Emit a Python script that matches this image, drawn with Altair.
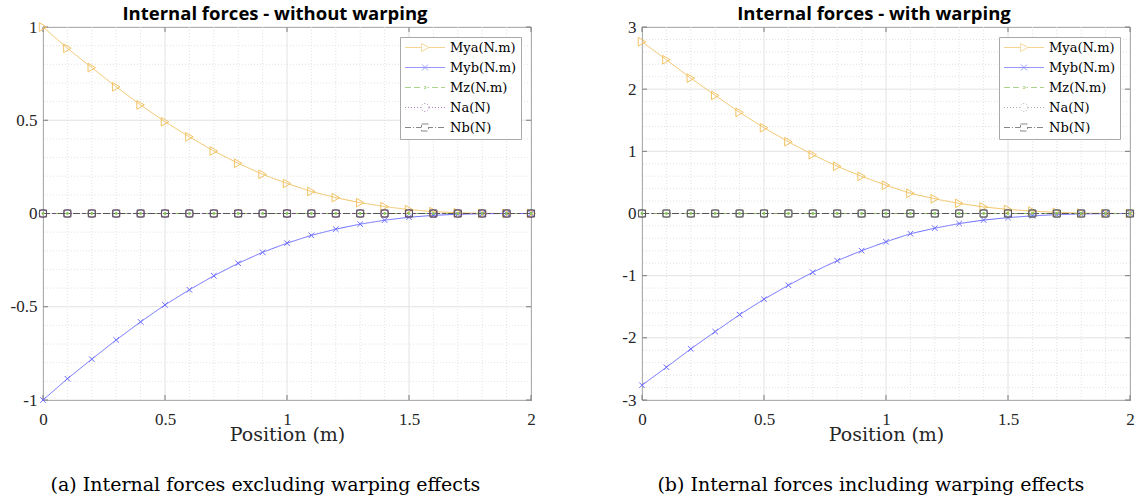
import math
import altair as alt
import pandas as pd

# ---------------- data ----------------
positions = [0.0, 0.1, 0.2, 0.3, 0.4, 0.5, 0.6, 0.7, 0.8, 0.9, 1.0,
             1.1, 1.2, 1.3, 1.4, 1.5, 1.6, 1.7, 1.8, 1.9, 2.0]

series_names = ["Mya(N.m)", "Myb(N.m)", "Mz(N.m)", "Na(N)", "Nb(N)"]

# (a) without warping
mya_a = [1.0, 0.886, 0.782, 0.679, 0.582, 0.492, 0.411, 0.335, 0.269, 0.210, 0.161,
         0.118, 0.085, 0.058, 0.037, 0.021, 0.010, 0.004, 0.001, 0.0, 0.0]
myb_a = [-1.0, -0.886, -0.781, -0.678, -0.581, -0.490, -0.409, -0.334, -0.267, -0.208, -0.159,
         -0.117, -0.084, -0.057, -0.036, -0.020, -0.010, -0.004, -0.001, 0.0, 0.0]
mz_a = [0.0, 0.0, 0.0, 0.0, 0.0, 0.0, 0.0, 0.0, 0.0, 0.0, 0.0,
        0.0, 0.0, 0.0, 0.0, 0.0, 0.0, 0.0, 0.0, 0.0, 0.0]
na_a = [0.0, 0.0, 0.0, 0.0, 0.0, 0.0, 0.0, 0.0, 0.0, 0.0, 0.0,
        0.0, 0.0, 0.0, 0.0, 0.0, 0.0, 0.0, 0.0, 0.0, 0.0]
nb_a = [0.0, 0.0, 0.0, 0.0, 0.0, 0.0, 0.0, 0.0, 0.0, 0.0, 0.0,
        0.0, 0.0, 0.0, 0.0, 0.0, 0.0, 0.0, 0.0, 0.0, 0.0]

# (b) with warping
mya_b = [2.762, 2.473, 2.178, 1.900, 1.627, 1.379, 1.154, 0.945, 0.759, 0.598, 0.455,
         0.325, 0.236, 0.162, 0.106, 0.066, 0.038, 0.018, 0.007, 0.002, 0.0]
myb_b = [-2.762, -2.473, -2.178, -1.900, -1.627, -1.379, -1.154, -0.945, -0.759, -0.598, -0.455,
         -0.325, -0.236, -0.162, -0.106, -0.066, -0.038, -0.018, -0.007, -0.002, 0.0]
mz_b = [0.0, 0.0, 0.0, 0.0, 0.0, 0.0, 0.0, 0.0, 0.0, 0.0, 0.0,
        0.0, 0.0, 0.0, 0.0, 0.0, 0.0, 0.0, 0.0, 0.0, 0.0]
na_b = [0.0, 0.0, 0.0, 0.0, 0.0, 0.0, 0.0, 0.0, 0.0, 0.0, 0.0,
        0.0, 0.0, 0.0, 0.0, 0.0, 0.0, 0.0, 0.0, 0.0, 0.0]
nb_b = [0.0, 0.0, 0.0, 0.0, 0.0, 0.0, 0.0, 0.0, 0.0, 0.0, 0.0,
        0.0, 0.0, 0.0, 0.0, 0.0, 0.0, 0.0, 0.0, 0.0, 0.0]

x_major = [0.0, 0.5, 1.0, 1.5, 2.0]
x_minor = [0.1, 0.2, 0.3, 0.4, 0.6, 0.7, 0.8, 0.9, 1.1, 1.2, 1.3, 1.4, 1.6, 1.7, 1.8, 1.9]
y_major_a = [-1.0, -0.5, 0.0, 0.5, 1.0]
y_minor_a = [-0.9, -0.8, -0.7, -0.6, -0.4, -0.3, -0.2, -0.1, 0.1, 0.2, 0.3, 0.4, 0.6, 0.7, 0.8, 0.9]
y_major_b = [-3, -2, -1, 0, 1, 2, 3]
y_minor_b = [-2.8, -2.6, -2.4, -2.2, -1.8, -1.6, -1.4, -1.2, -0.8, -0.6, -0.4, -0.2,
             0.2, 0.4, 0.6, 0.8, 1.2, 1.4, 1.6, 1.8, 2.2, 2.4, 2.6, 2.8]

title_a = "Internal forces - without warping"
title_b = "Internal forces - with warping"
caption_a = "(a) Internal forces excluding warping effects"
caption_b = "(b) Internal forces including warping effects"

colors_a = ["#F2C363", "#6b6bff", "#86c25a", "#8a4a9a", "#555555"]
colors_b = ["#F2C363", "#6b6bff", "#86c25a", "#8f8f8f", "#555555"]

# ---------------- styles ----------------
W, H = 488, 373
TICK = 5
FRAME = "#7a7a7a"
GRID = "#e2e2e2"
SERIF = "DejaVu Serif"
TICKFONT = "Liberation Serif"

# legend symbol geometry (units of 5 px, symbol size 100)
L0, L1, CX = -1.1, 6.9, 2.9


def segs(pattern, skip_lo, skip_hi):
    """dash pattern segments along the legend sample line, skipping the marker zone"""
    out = []
    pos = L0
    i = 0
    while pos < L1 - 1e-9:
        on = pattern[i % len(pattern)]
        off = pattern[(i + 1) % len(pattern)]
        a, b = pos, min(pos + on, L1)
        if b <= skip_lo or a >= skip_hi:
            out.append(f"M{a:.3f},0H{b:.3f}")
        else:
            if a < skip_lo:
                out.append(f"M{a:.3f},0H{skip_lo:.3f}")
            if b > skip_hi:
                out.append(f"M{skip_hi:.3f},0H{b:.3f}")
        pos += on + off
        i += 2
    return "".join(out)


def circle_path(cx, r, n=20):
    pts = [(cx + r * math.cos(2 * math.pi * k / n), r * math.sin(2 * math.pi * k / n)) for k in range(n)]
    return "M" + "L".join(f"{x:.3f},{y:.3f}" for x, y in pts) + "Z"


def box_path(cx, r):
    return f"M{cx - r:.3f},{-r:.3f}H{cx + r:.3f}V{r:.3f}H{cx - r:.3f}Z"


legend_paths = [
    segs([20.0, 0.0], CX - 0.7, CX + 0.8)
    + f"M{CX - 0.7:.3f},-0.8L{CX + 0.8:.3f},0L{CX - 0.7:.3f},0.8Z",
    segs([20.0, 0.0], 99, 99)
    + f"M{CX - 0.6:.3f},-0.6L{CX + 0.6:.3f},0.6M{CX - 0.6:.3f},0.6L{CX + 0.6:.3f},-0.6",
    segs([1.2, 0.6], CX - 0.5, CX + 0.5) + box_path(CX, 0.18),
    segs([0.2, 0.4], CX - 0.85, CX + 0.85) + circle_path(CX, 0.8),
    segs([1.2, 0.4, 0.2, 0.4], CX - 0.7, CX + 0.7) + box_path(CX, 0.7),
]

marker_specs = [
    dict(shape="triangle-right", filled=False, size=75, strokeWidth=1),
    dict(shape="M-1,-1L1,1M-1,1L1,-1", filled=False, size=30, strokeWidth=1),
    dict(shape="circle", filled=True, size=8, strokeWidth=0),
    dict(shape="circle", filled=False, size=60, strokeWidth=1),
    dict(shape="square", filled=False, size=50, strokeWidth=1),
]

dashes = [[1, 0], [1, 0], [6, 4], [1, 2], [7, 3, 2, 3]]


def make_panel(values, colors, y_dom, y_major, y_minor, title, caption):
    rows = []
    for name, vals in zip(series_names, values):
        for x, v in zip(positions, vals):
            rows.append({"x": x, "v": v, "series": name})
    df = pd.DataFrame(rows)

    xs = alt.Scale(domain=[0, 2], nice=False, zero=False)
    ys = alt.Scale(domain=y_dom, nice=False, zero=False)
    cs = alt.Scale(domain=series_names, range=colors)

    x_axis = alt.Axis(values=x_major, labelExpr="'' + datum.value", grid=False, ticks=False,
                      domain=False, title="Position (m)", titleFont=SERIF, titleFontSize=19,
                      titleFontWeight="normal", titleColor="#262626", titlePadding=-2,
                      labelFont=TICKFONT, labelFontSize=17, labelColor="#262626", labelPadding=11,
                      labelFlush=False)
    y_axis = alt.Axis(values=y_major, labelExpr="'' + datum.value", grid=False, ticks=False,
                      domain=False, title=None, labelFont=TICKFONT, labelFontSize=17,
                      labelColor="#262626", labelPadding=6, labelFlush=False)
    legend = alt.Legend(title=None, orient="top-right", offset=10, padding=4,
                        fillColor="white", strokeColor="#a8a8a8",
                        labelFont=SERIF, labelFontSize=13, labelColor="#000000",
                        symbolSize=100, symbolStrokeWidth=1, symbolFillColor="transparent",
                        rowPadding=6, labelOffset=33)

    def X(f):
        return alt.X(f, scale=xs, axis=x_axis, title="Position (m)")

    def Y(f):
        return alt.Y(f, scale=ys, axis=y_axis, title=None)

    def C():
        return alt.Color("series:N", scale=cs, legend=legend)

    xgrid_major = pd.DataFrame({"g": x_major})
    xgrid_minor = pd.DataFrame({"g": x_minor})
    ygrid_major = pd.DataFrame({"g": y_major})
    ygrid_minor = pd.DataFrame({"g": y_minor})

    layers = []
    # minor grid
    layers.append(alt.Chart(xgrid_minor).mark_rule(color=GRID, strokeDash=[1, 2], strokeWidth=1)
                  .encode(x=X("g:Q")))
    layers.append(alt.Chart(ygrid_minor).mark_rule(color=GRID, strokeDash=[1, 2], strokeWidth=1)
                  .encode(y=Y("g:Q")))
    # major grid
    layers.append(alt.Chart(xgrid_major).mark_rule(color=GRID, strokeWidth=1)
                  .encode(x=X("g:Q")))
    layers.append(alt.Chart(ygrid_major).mark_rule(color=GRID, strokeWidth=1)
                  .encode(y=Y("g:Q")))
    # inward ticks on all four sides
    layers.append(alt.Chart(xgrid_major).mark_rule(color=FRAME)
                  .encode(x=X("g:Q"), y=alt.value(0), y2=alt.value(TICK)))
    layers.append(alt.Chart(xgrid_major).mark_rule(color=FRAME)
                  .encode(x=X("g:Q"), y=alt.value(H), y2=alt.value(H - TICK)))
    layers.append(alt.Chart(ygrid_major).mark_rule(color=FRAME)
                  .encode(y=Y("g:Q"), x=alt.value(0), x2=alt.value(TICK)))
    layers.append(alt.Chart(ygrid_major).mark_rule(color=FRAME)
                  .encode(y=Y("g:Q"), x=alt.value(W - TICK), x2=alt.value(W)))

    # lines
    layers.append(alt.Chart(df).mark_line(strokeWidth=1, clip=True).encode(
        x=X("x:Q"),
        y=Y("v:Q"),
        color=C(),
        strokeDash=alt.StrokeDash("series:N", scale=alt.Scale(domain=series_names, range=dashes),
                                  legend=None),
        order=alt.Order("x:Q"),
    ))
    # markers, one layer per series, coloured by the series colour
    for name, spec, col in zip(series_names, marker_specs, colors):
        layers.append(alt.Chart(df).transform_filter(alt.datum.series == name)
                      .mark_point(opacity=1, color=col, **spec).encode(
            x=X("x:Q"),
            y=Y("v:Q"),
        ))
    # legend carrier (draws nothing; the legend comes from the scale domains)
    layers.append(alt.Chart(df).transform_filter("datum.x < -100").mark_point(filled=False, strokeWidth=1).encode(
        x=X("x:Q"),
        y=Y("v:Q"),
        color=C(),
        shape=alt.Shape("series:N", scale=alt.Scale(domain=series_names, range=legend_paths),
                        legend=legend),
    ))

    panel = alt.layer(*layers).properties(
        width=W, height=H,
        title=alt.TitleParams(title, font="Open Sans", fontSize=18.5, fontWeight="bold", color="#000000",
                              anchor="middle", offset=-5, dx=-12),
    )
    return alt.vconcat(panel, title=alt.TitleParams(caption, orient="bottom", font=SERIF,
                                                     fontSize=19, fontWeight="normal",
                                                     color="#000000", anchor="middle",
                                                     offset=31, dx=-8)).resolve_scale(
        color="independent", shape="independent", strokeDash="independent")


left = make_panel([mya_a, myb_a, mz_a, na_a, nb_a], colors_a, [-1, 1], y_major_a, y_minor_a,
                  title_a, caption_a)
right = make_panel([mya_b, myb_b, mz_b, na_b, nb_b], colors_b, [-3, 3], y_major_b, y_minor_b,
                   title_b, caption_b)

chart = alt.hconcat(left, right, spacing=83).resolve_scale(
    color="independent", shape="independent", strokeDash="independent"
).properties(
    padding={"left": 9, "top": 4, "right": 5, "bottom": 2},
    background="white",
).configure_view(stroke=FRAME, strokeWidth=1)

chart.save("out.html", embed_options={"renderer": "svg", "actions": False})
